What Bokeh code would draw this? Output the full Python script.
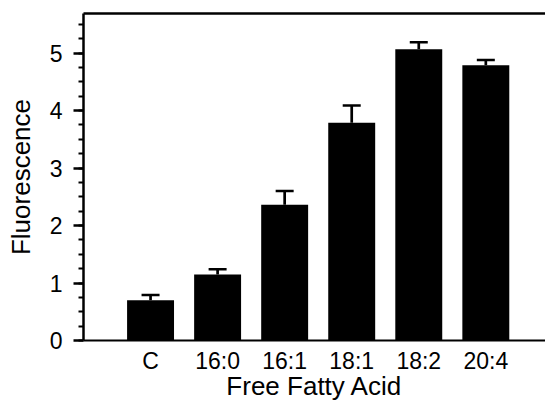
from bokeh.plotting import figure
from bokeh.models import (ColumnDataSource, Whisker, TeeHead, SingleIntervalTicker,
                          FixedTicker, LinearAxis, Range1d)
from bokeh.embed import file_html
from bokeh.resources import INLINE

# ---- data ----
categories = ["C", "16:0", "16:1", "18:1", "18:2", "20:4"]
fluorescence = [0.70, 1.15, 2.36, 3.79, 5.07, 4.79]
sem = [0.09, 0.09, 0.24, 0.30, 0.12, 0.09]
y_ticks = [0, 1, 2, 3, 4, 5]

xs = list(range(1, len(categories) + 1))
upper = [m + e for m, e in zip(fluorescence, sem)]
src = ColumnDataSource(dict(x=xs, top=fluorescence, upper=upper))

FONT = "Liberation Sans"

p = figure(width=545, height=403, output_backend="svg", toolbar_location=None,
           x_range=Range1d(0, 6.89), y_range=Range1d(0, 5.69),
           min_border_left=83, min_border_right=0, min_border_top=13,
           min_border_bottom=61, x_axis_type=None, y_axis_type=None)
p.outline_line_color = None
p.xgrid.visible = False
p.ygrid.visible = False
p.background_fill_color = "white"

p.vbar(x="x", top="top", width=0.7, source=src, fill_color="black", line_color=None)

wh = Whisker(source=src, base="x", lower="top", upper="upper", dimension="height",
             line_color="black", line_width=2.7,
             upper_head=TeeHead(size=18, line_width=2.5, line_color="black"),
             lower_head=None)
p.add_layout(wh)

# left axis
yax = LinearAxis(ticker=SingleIntervalTicker(interval=1, num_minor_ticks=4),
                 axis_label="Fluorescence")
yax.axis_line_width = 2.5
yax.major_tick_line_width = 2.5
yax.minor_tick_line_width = 2
yax.major_tick_out = 10
yax.major_tick_in = 0
yax.minor_tick_out = 5
yax.minor_tick_in = 0
yax.major_label_standoff = 11
yax.major_label_text_font = FONT
yax.major_label_text_font_size = "23px"
yax.major_label_text_color = "black"
yax.axis_label_text_font = FONT
yax.axis_label_text_font_size = "26px"
yax.axis_label_text_font_style = "normal"
yax.axis_label_text_color = "black"
yax.axis_label_standoff = 11
p.add_layout(yax, "left")

# bottom axis
xax = LinearAxis(ticker=FixedTicker(ticks=xs), axis_label="Free Fatty Acid")
xax.major_label_overrides = {x: c for x, c in zip(xs, categories)}
xax.axis_line_width = 2
xax.major_tick_line_color = None
xax.minor_tick_line_color = None
xax.major_tick_out = 0
xax.major_tick_in = 0
xax.major_label_standoff = 7
xax.major_label_text_font = FONT
xax.major_label_text_font_size = "23px"
xax.major_label_text_color = "black"
xax.axis_label_text_font = FONT
xax.axis_label_text_font_size = "26px"
xax.axis_label_text_font_style = "normal"
xax.axis_label_text_color = "black"
xax.axis_label_standoff = -6
p.add_layout(xax, "below")

# top line
tax = LinearAxis(ticker=FixedTicker(ticks=[]))
tax.axis_line_width = 2.5
tax.major_tick_line_color = None
tax.minor_tick_line_color = None
tax.major_tick_out = 0
tax.major_label_standoff = 0
p.add_layout(tax, "above")

open("out.html", "w").write(file_html(p, INLINE))
